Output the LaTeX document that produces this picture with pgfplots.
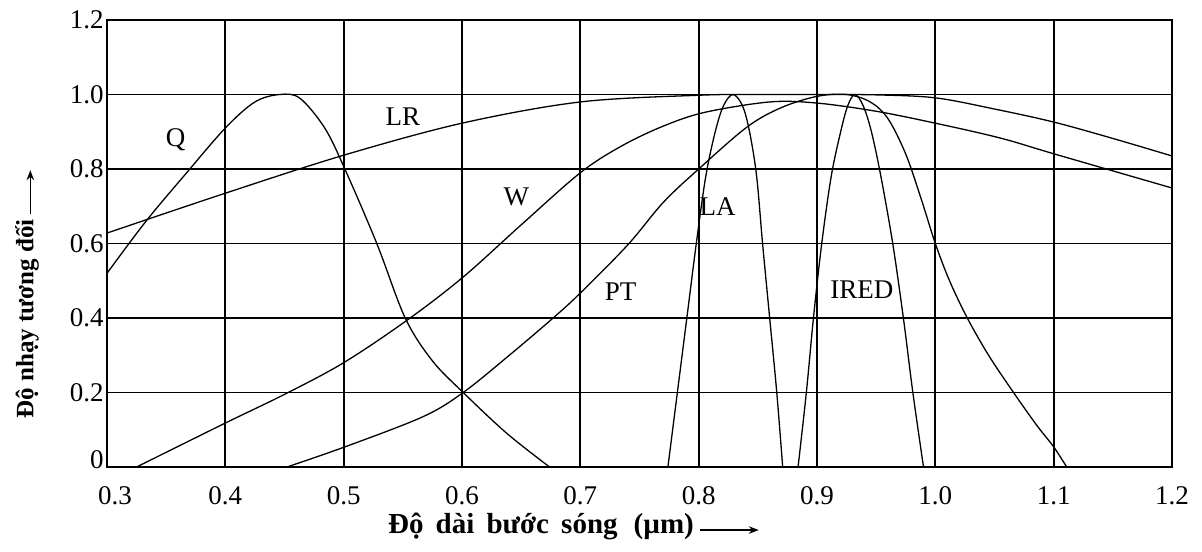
\documentclass[border=0pt]{standalone}
\usepackage{pgfplots}
\pgfplotsset{compat=1.18}
\usepackage{fontspec}
\setmainfont{Liberation Serif}
\usetikzlibrary{arrows.meta}
\begin{document}
\fontsize{13.5pt}{16pt}\selectfont
\begin{tikzpicture}
\begin{axis}[
  scale only axis, width=532.5pt, height=223.5pt,
  xmin=0.3, xmax=1.2, ymin=0, ymax=1.2,
  xtick={0.3,0.4,0.5,0.6,0.7,0.8,0.9,1.0,1.1,1.2},
  xticklabels={\hspace*{8pt}0.3,0.4,0.5,0.6,0.7,0.8,0.9,1.0,1.1,1.2},
  ytick={0,0.2,0.4,0.6,0.8,1.0,1.2},
  yticklabels={\raisebox{7pt}{0},0.2,0.4,0.6,0.8,1.0,1.2},
  grid=major, major grid style={black, line width=0.9pt},
  axis line style={black, line width=0.9pt},
  major tick length=0pt,
  tick label style={font=\fontsize{13.5pt}{16pt}\selectfont},
  xticklabel style={yshift=-5pt},
  yticklabel style={inner sep=1.5pt},
  clip=false,
]
\coordinate (SW) at (rel axis cs:0,0);
\coordinate (NE) at (rel axis cs:1,1);
% Q
\addplot[black, line width=0.65pt, smooth, tension=0.55] coordinates {
(0.300,0.52) (0.333,0.66) (0.366,0.785) (0.400,0.91) (0.425,0.98) (0.446,1.00) (0.463,0.99) (0.484,0.91) (0.501,0.80) (0.528,0.60) (0.552,0.40) (0.575,0.285) (0.601,0.20) (0.638,0.09) (0.674,0.0)};
% LR
\addplot[black, line width=0.65pt, smooth, tension=0.55] coordinates {
(0.300,0.628) (0.400,0.735) (0.500,0.837) (0.600,0.923) (0.700,0.980) (0.800,0.998) (0.850,1.0) (0.900,1.0) (0.950,0.999) (1.000,0.991) (1.050,0.961) (1.100,0.926) (1.150,0.882) (1.200,0.835)};
% W
\addplot[black, line width=0.65pt, smooth, tension=0.55] coordinates {
(0.325,0.0) (0.400,0.118) (0.450,0.195) (0.500,0.28) (0.554,0.395) (0.601,0.51) (0.650,0.65) (0.700,0.79) (0.735,0.862) (0.770,0.915) (0.805,0.952) (0.860,0.98) (0.900,0.977) (0.950,0.955) (1.000,0.923) (1.055,0.883) (1.101,0.84) (1.200,0.749)};
% PT
\addplot[black, line width=0.65pt, smooth, tension=0.55] coordinates {
(0.452,0.0) (0.501,0.054) (0.567,0.135) (0.601,0.20) (0.640,0.30) (0.677,0.40) (0.700,0.467) (0.740,0.596) (0.770,0.71) (0.800,0.80) (0.841,0.913) (0.870,0.965) (0.900,0.995) (0.925,1.0) (0.945,0.98) (0.960,0.935) (0.975,0.84) (0.988,0.72) (1.000,0.60) (1.012,0.50) (1.027,0.40) (1.045,0.30) (1.065,0.205) (1.085,0.115) (1.100,0.054) (1.111,0.0)};
% LA
\addplot[black, line width=0.65pt, smooth, tension=0.55] coordinates {
(0.774,0) (0.782,0.2) (0.790,0.4) (0.798,0.6) (0.806,0.78) (0.814,0.9) (0.821,0.97) (0.829,1.0) (0.837,0.97) (0.843,0.9) (0.849,0.78) (0.854,0.6) (0.860,0.4) (0.866,0.2) (0.871,0)};
% IRED
\addplot[black, line width=0.65pt, smooth, tension=0.55] coordinates {
(0.884,0) (0.891,0.2) (0.897,0.4) (0.904,0.6) (0.912,0.78) (0.920,0.9) (0.926,0.97) (0.932,1.0) (0.939,0.97) (0.946,0.9) (0.954,0.78) (0.964,0.6) (0.973,0.4) (0.981,0.2) (0.990,0)};
\node at (axis cs:0.358,0.878) {Q};
\node at (axis cs:0.550,0.940) {LR};
\node at (axis cs:0.646,0.725) {W};
\node at (axis cs:0.734,0.470) {PT};
\node at (axis cs:0.816,0.700) {LA};
\node at (axis cs:0.938,0.475) {IRED};
\node[rotate=90, anchor=east, font=\bfseries\fontsize{12.5pt}{14pt}\selectfont] at (rel axis cs:-0.0751,0.575) {Độ nhạy tương đối};
\draw[-{Stealth[length=5pt]}, line width=0.6pt] (rel axis cs:-0.072,0.565) -- (rel axis cs:-0.072,0.664);
\node[font=\bfseries\fontsize{14.5pt}{16pt}\selectfont] at (rel axis cs:0.4075,-0.134) {Độ\hspace{0.42em}dài\hspace{0.42em}bước\hspace{0.42em}sóng\hspace{8pt}(µm)};
\draw[-{Stealth[length=5pt]}, line width=0.6pt] (rel axis cs:0.557,-0.141) -- (rel axis cs:0.612,-0.141);
\end{axis}
\pgfresetboundingbox
\path[use as bounding box] ([xshift=-53.5pt,yshift=-42pt]SW) rectangle ([xshift=15pt,yshift=10pt]NE);
\end{tikzpicture}
\end{document}
